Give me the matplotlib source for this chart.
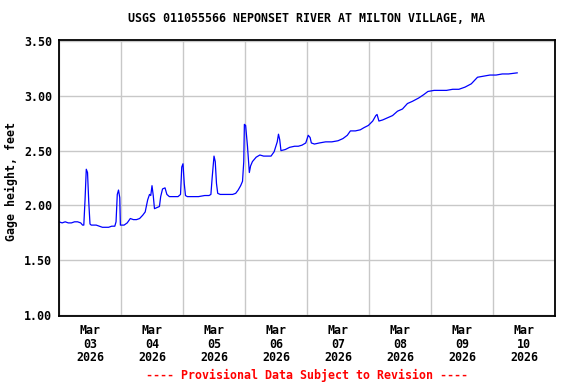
import matplotlib
matplotlib.use("Agg")
import matplotlib.pyplot as plt
import matplotlib.dates as mdates
import pandas as pd

# gage height readings, days since Mar 03 2026 00:00 -> feet
days = [0.00, 0.05, 0.10, 0.15, 0.20, 0.25, 0.30, 0.35, 0.38, 0.40, 0.42, 0.44, 0.46, 0.48,
        0.50, 0.52, 0.60, 0.65, 0.70, 0.75, 0.80, 0.85, 0.90, 0.92, 0.94, 0.96, 0.98, 0.99,
        1.05, 1.10, 1.15, 1.20, 1.25, 1.30, 1.35, 1.39, 1.43, 1.46, 1.48, 1.50, 1.52, 1.54,
        1.58, 1.62, 1.64, 1.67, 1.71, 1.74, 1.78, 1.85, 1.92, 1.96, 1.98, 2.00, 2.02, 2.04,
        2.07, 2.15, 2.25, 2.35, 2.42, 2.45, 2.47, 2.50, 2.52, 2.54, 2.56, 2.60, 2.70, 2.80,
        2.85, 2.89, 2.93, 2.96, 2.98, 2.99, 3.01, 3.04, 3.07, 3.09, 3.12, 3.18, 3.24, 3.30,
        3.36, 3.42, 3.47, 3.52, 3.54, 3.56, 3.58, 3.65, 3.72, 3.80, 3.86, 3.92, 3.98, 4.02,
        4.05, 4.07, 4.12, 4.20, 4.30, 4.40, 4.50, 4.58, 4.65, 4.70, 4.78, 4.86, 4.92, 4.99,
        5.06, 5.11, 5.13, 5.16, 5.22, 5.30, 5.38, 5.46, 5.54, 5.62, 5.70, 5.80, 5.88, 5.95,
        6.05, 6.15, 6.25, 6.35, 6.45, 6.55, 6.65, 6.70, 6.75, 6.85, 6.95, 7.05, 7.15, 7.25,
        7.39]
gage = [1.85, 1.84, 1.85, 1.84, 1.84, 1.85, 1.85, 1.84, 1.82, 1.82, 2.05, 2.33, 2.30, 2.03,
        1.83, 1.82, 1.82, 1.81, 1.80, 1.80, 1.80, 1.81, 1.81, 1.85, 2.10, 2.14, 2.07, 1.82,
        1.82, 1.84, 1.88, 1.87, 1.87, 1.88, 1.91, 1.94, 2.05, 2.10, 2.09, 2.18, 2.09, 1.97,
        1.98, 1.99, 2.08, 2.15, 2.16, 2.10, 2.08, 2.08, 2.08, 2.10, 2.35, 2.38, 2.20, 2.09,
        2.08, 2.08, 2.08, 2.09, 2.09, 2.10, 2.25, 2.45, 2.40, 2.20, 2.11, 2.10, 2.10, 2.10,
        2.11, 2.14, 2.18, 2.22, 2.40, 2.74, 2.73, 2.54, 2.30, 2.36, 2.40, 2.44, 2.46, 2.45,
        2.45, 2.45, 2.49, 2.58, 2.65, 2.60, 2.50, 2.51, 2.53, 2.54, 2.54, 2.55, 2.57, 2.64,
        2.62, 2.57, 2.56, 2.57, 2.58, 2.58, 2.59, 2.61, 2.64, 2.68, 2.68, 2.69, 2.71, 2.73,
        2.77, 2.82, 2.83, 2.77, 2.78, 2.80, 2.82, 2.86, 2.88, 2.93, 2.95, 2.98, 3.01, 3.04,
        3.05, 3.05, 3.05, 3.06, 3.06, 3.08, 3.11, 3.14, 3.17, 3.18, 3.19, 3.19, 3.20, 3.20,
        3.21]
yticks = [1.00, 1.50, 2.00, 2.50, 3.00, 3.50]

start = pd.Timestamp("2026-03-03")
times = [start + pd.Timedelta(days=d) for d in days]

mono = {"family": "DejaVu Sans Mono", "weight": "bold", "size": 8.4}

fig = plt.figure(figsize=(5.76, 3.84), dpi=100)
ax = fig.add_axes([59/576, 1 - 316/384, 496/576, 276/384])

ax.plot(times, gage, color="#0000ff", lw=0.9)

ax.set_xlim(start, start + pd.Timedelta(days=8))
ax.set_ylim(0.99, 3.51)
ax.set_yticks(yticks)
ax.set_yticklabels([f"{v:.2f}" for v in yticks], fontdict=mono)

# labels at noon, gridlines at midnight
ax.xaxis.set_major_locator(mdates.HourLocator(byhour=12))
ax.xaxis.set_major_formatter(mdates.DateFormatter("%b\n%d\n%Y"))
ax.xaxis.set_minor_locator(mdates.DayLocator())
for lab in ax.get_xticklabels():
    lab.set_fontproperties(matplotlib.font_manager.FontProperties(**mono))
ax.tick_params(axis="both", which="both", length=0, pad=5)
ax.tick_params(axis="x", pad=6)
plt.setp(ax.get_xticklabels(), linespacing=1.05)

ax.grid(False, which="major", axis="x")
ax.grid(True, which="minor", axis="x", color="#c8c8c8", lw=1)
ax.grid(True, which="major", axis="y", color="#c8c8c8", lw=1)
ax.set_axisbelow(True)
for s in ax.spines.values():
    s.set_linewidth(1.3)

fig.text(307/576, 1 - 19/384, "USGS 011055566 NEPONSET RIVER AT MILTON VILLAGE, MA",
         ha="center", va="center", **mono)
fig.text(11/576, 1 - 182/384, "Gage height, feet", rotation=90, ha="center", va="center", **mono)
fig.text(307/576, 1 - 375/384, "---- Provisional Data Subject to Revision ----",
         ha="center", va="center", color="red", **mono)

fig.savefig("out.png", dpi=100)
